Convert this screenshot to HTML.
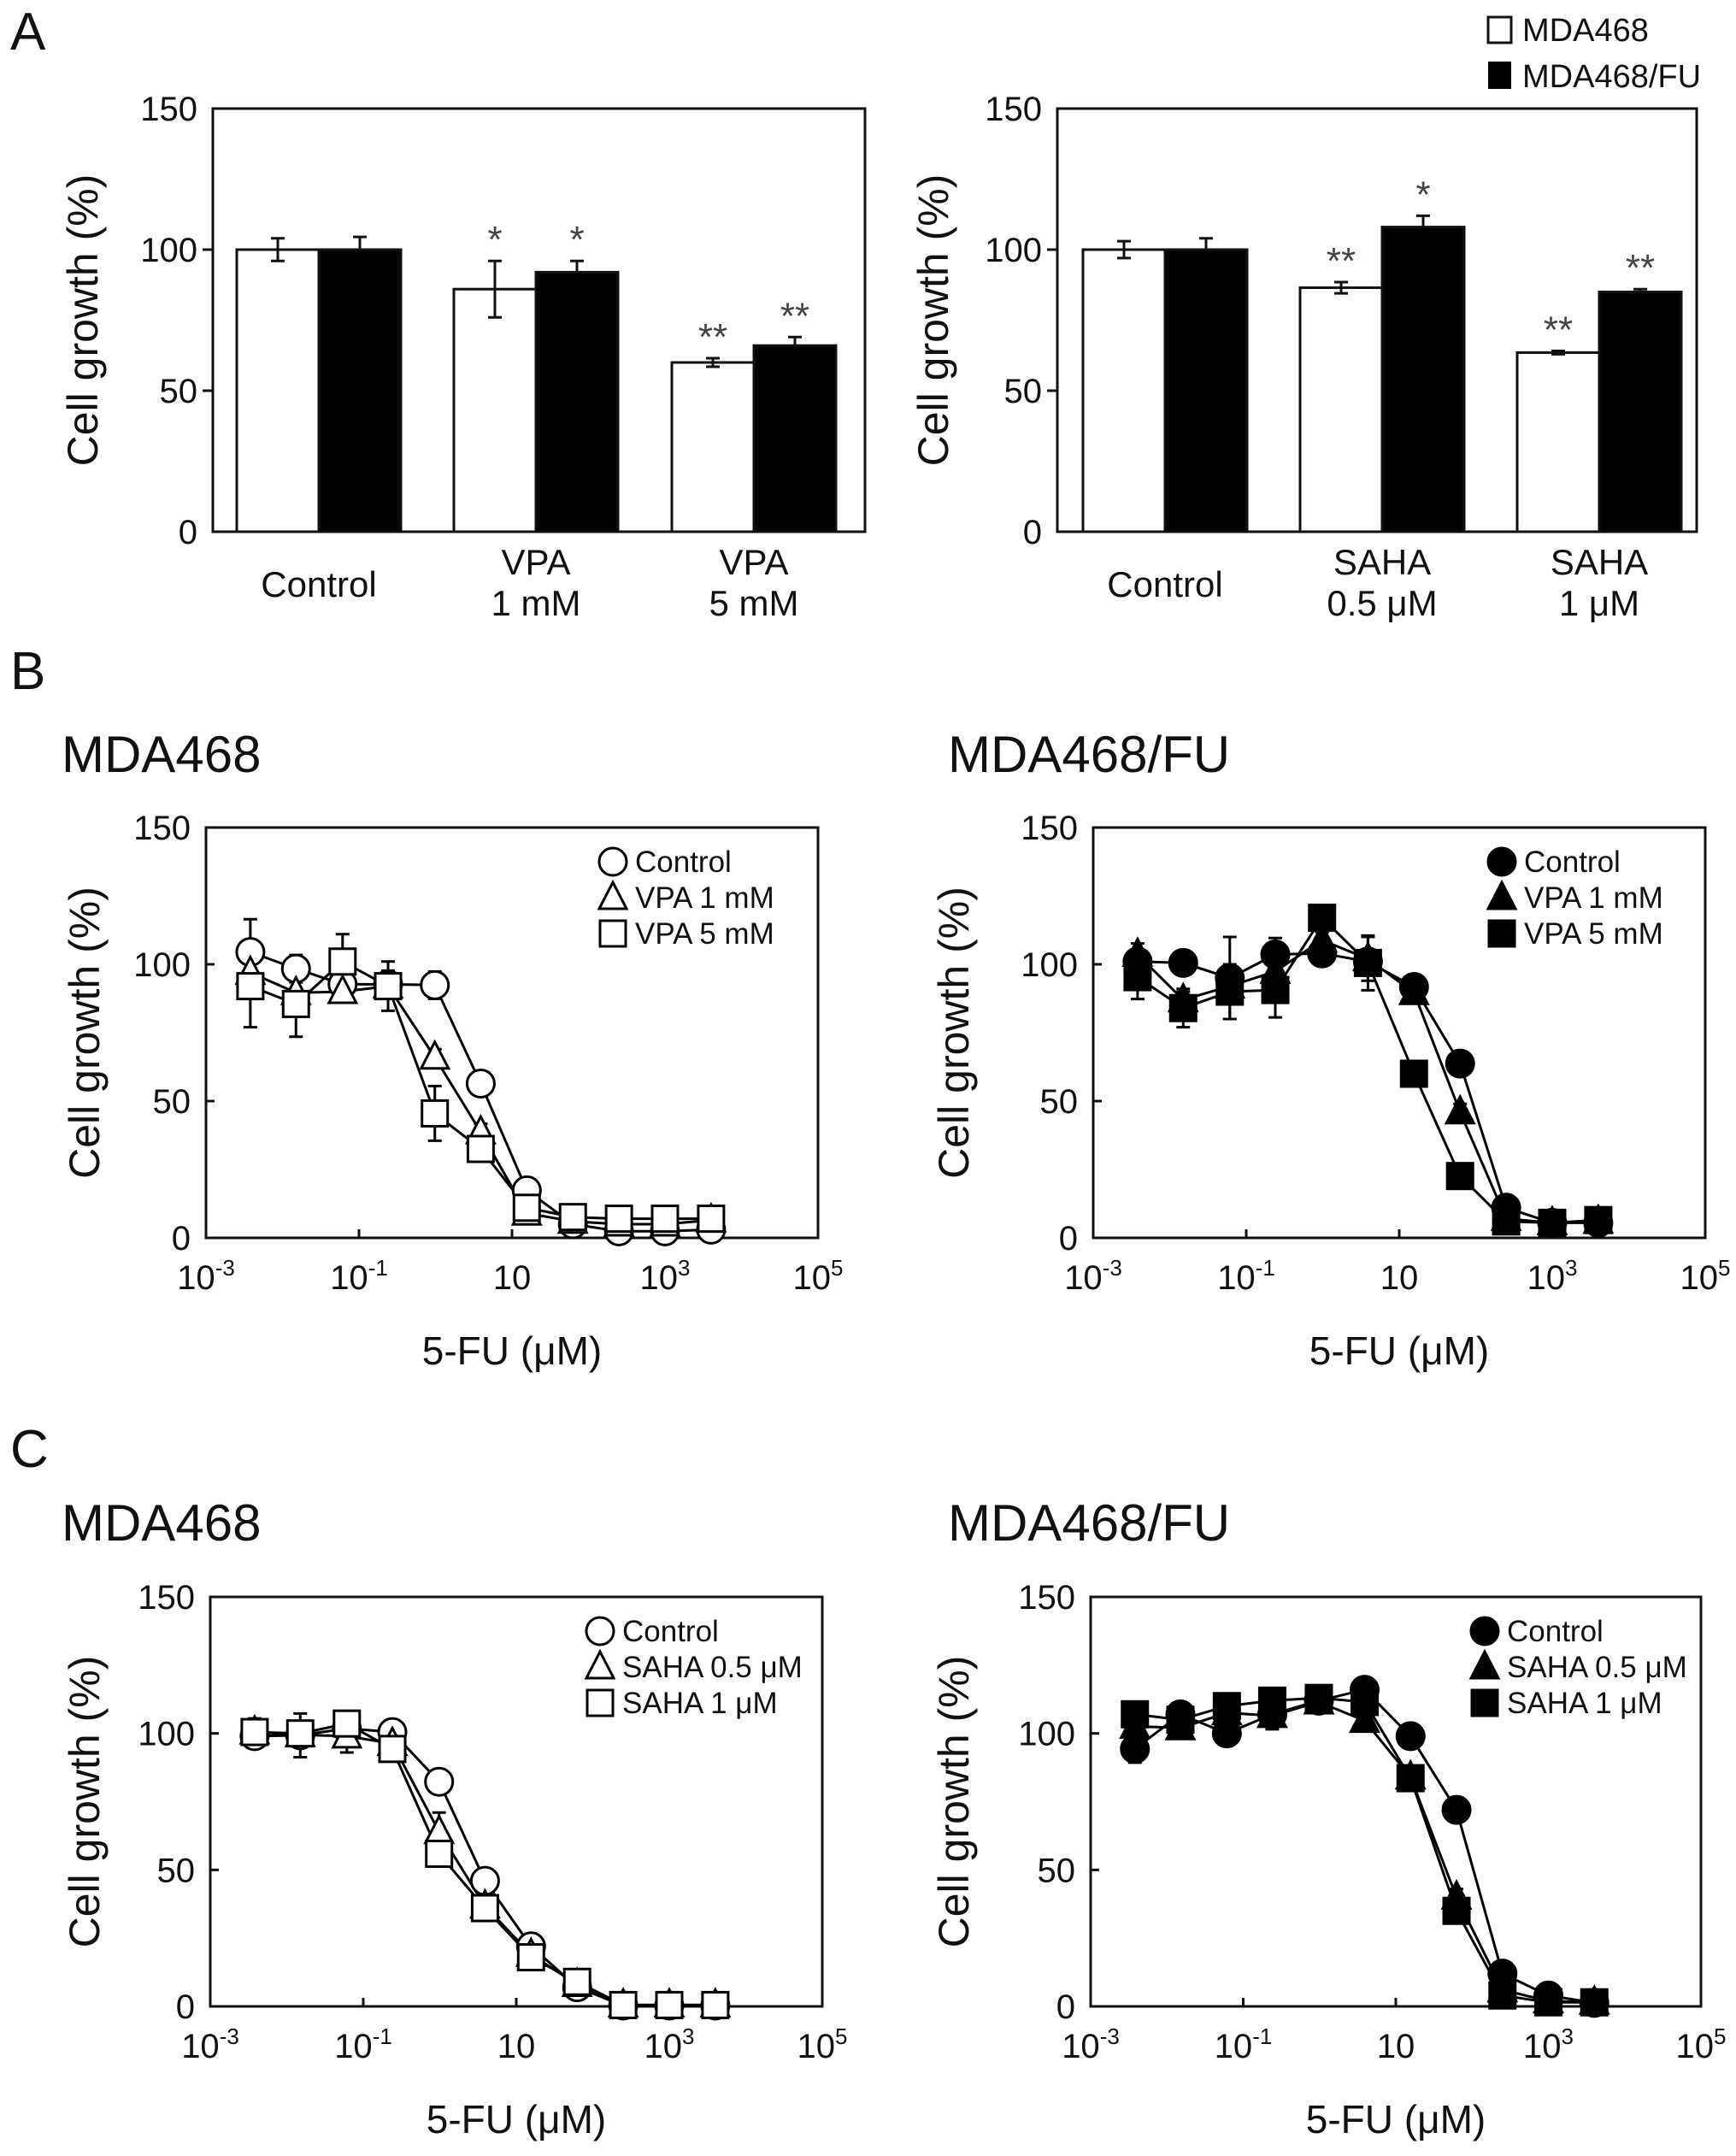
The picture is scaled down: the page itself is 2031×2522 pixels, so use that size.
<!DOCTYPE html>
<html><head><meta charset="utf-8"><style>
html,body{margin:0;padding:0;background:#fff}
svg{display:block}
text{font-family:"Liberation Sans",Arial,sans-serif;fill:#111}
</style></head><body>
<svg id="fig" width="2031" height="2522" viewBox="0 0 2031 2522" xmlns="http://www.w3.org/2000/svg">
<rect width="2031" height="2522" fill="#fff"/>
<text x="12" y="58" font-size="62">A</text>
<text x="12" y="806" font-size="62">B</text>
<text x="12" y="1716" font-size="62">C</text>
<g>
<rect x="1741" y="20" width="27" height="30" fill="#fff" stroke="#111" stroke-width="3"/>
<text x="1781" y="48" font-size="38">MDA468</text>
<rect x="1741" y="72" width="27" height="32" fill="#000"/>
<text x="1781" y="102" font-size="38">MDA468/FU</text>
</g>
<text x="72" y="903" font-size="60">MDA468</text>
<text x="1109" y="903" font-size="60">MDA468/FU</text>
<text x="72" y="1802" font-size="60">MDA468</text>
<text x="1109" y="1802" font-size="60">MDA468/FU</text>
</svg>
<script>
// ===== Panel A data =====
const aLeftCats = [["Control"],["VPA","1 mM"],["VPA","5 mM"]];
const aLeftWhite = [100, 86, 60];
const aLeftWhiteErr = [4, 10, 1.5];
const aLeftBlack = [100, 92, 66];
const aLeftBlackErr = [4.5, 4, 3];
const aLeftWhiteStars = ["", "*", "**"];
const aLeftBlackStars = ["", "*", "**"];
const aRightCats = [["Control"],["SAHA","0.5 \u03bcM"],["SAHA","1 \u03bcM"]];
const aRightWhite = [100, 86.5, 63.5];
const aRightWhiteErr = [3, 2, 0.6];
const aRightBlack = [100, 108, 85];
const aRightBlackErr = [4, 4, 1];
const aRightWhiteStars = ["", "**", "**"];
const aRightBlackStars = ["", "*", "**"];
const yTicks = [0, 50, 100, 150];

// ===== Dose-response data =====
const conc = [0.0038, 0.015, 0.061, 0.24, 0.98, 3.9, 15.6, 62.5, 250, 1000, 4000];
const xTickExp = [-3, -1, 1, 3, 5];
const bL_ctl = [104.5, 98.4, 92.7, 92.7, 92.4, 56.4, 17.4, 5, 2.4, 2.4, 3];
const bL_ctlErr = [12, 5, 5, 5, 5, 2, 2, 1, 1, 1, 1];
const bL_v1 = [97, 89.6, 90, 92, 66, 38.7, 9, 6, 5, 5, 6.5];
const bL_v1Err = [5, 4, 4, 4, 3, 3, 2, 1, 1, 1, 1];
const bL_v5 = [92, 85.5, 101, 92, 45.5, 32.5, 11, 7.6, 7, 7, 7];
const bL_v5Err = [15, 12, 10, 9, 10, 4, 2, 1, 1, 1, 1];
const bR_ctl = [101, 100.5, 95, 103.6, 104, 101, 91.7, 63.7, 11, 5.5, 5.5];
const bR_ctlErr = [3, 3, 15, 6, 3, 2, 2, 2, 2, 1, 1];
const bR_v1 = [103.6, 87, 92, 97.4, 108.8, 102, 89.6, 46, 7, 5.5, 6];
const bR_v1Err = [4, 3, 5, 4, 3, 8, 2, 3, 1, 1, 1];
const bR_v5 = [95.3, 84, 90, 90.6, 117, 100.5, 60, 22.6, 6, 5.5, 6.5];
const bR_v5Err = [8, 7, 10, 10, 3, 10, 3, 3, 1, 1, 1];
const cL_ctl = [99, 99.3, 101.8, 100.5, 82.3, 46, 22, 7, 0.3, 0.3, 0.3];
const cL_ctlErr = [3, 8, 4, 4, 2, 2, 2, 1, 1, 1, 1];
const cL_s05 = [100.5, 99.5, 99, 96.3, 64, 36.7, 19, 8, 0.5, 0.5, 0.5];
const cL_s05Err = [4, 3, 6, 3, 7, 2, 2, 1, 1, 1, 1];
const cL_s1 = [100.5, 100, 103.6, 94.3, 55.9, 36, 18, 9, 0.5, 0.5, 0.5];
const cL_s1Err = [5, 3, 4, 3, 2, 2, 2, 1, 1, 1, 1];
const cR_ctl = [94.3, 107, 100, 107, 112, 116, 99, 72, 12, 4, 1.3];
const cR_ctlErr = [5, 2, 2, 2, 2, 2, 2, 2, 2, 1, 1];
const cR_s05 = [102.6, 102, 107.5, 106.5, 111.5, 104.7, 84, 40, 6, 2, 1.5];
const cR_s05Err = [3, 3, 3, 5, 2, 2, 2, 3, 1, 1, 1];
const cR_s1 = [107, 105, 110, 112, 113, 111.5, 83.6, 35, 4, 1.5, 1.5];
const cR_s1Err = [4, 3, 3, 3, 2, 2, 2, 2, 1, 1, 1];

const NS = "http://www.w3.org/2000/svg";
const svg = document.getElementById("fig");
function mk(tag, attrs, parent) {
  const e = document.createElementNS(NS, tag);
  for (const k in attrs) e.setAttribute(k, attrs[k]);
  (parent || svg).appendChild(e);
  return e;
}
function txt(x, y, s, size, anchor, parent) {
  const t = mk("text", {x: x, y: y, "font-size": size, "text-anchor": anchor || "start"}, parent);
  t.textContent = s;
  return t;
}

function yAxis(g, L, T, B, yscale, tickOut, titleX, name) {
  yTicks.forEach(v => {
    const y = yscale(v);
    if (v > 0 && v < 150) {
      const tk = mk("line", {x1: tickOut ? L - 12 : L, x2: tickOut ? L : L + 10, y1: y, y2: y, stroke: "#111", "stroke-width": 3}, g);
      
      
    }
    const t = txt(L - 18, y + 14, String(v), 40, "end", g);
    
    
  });
  const cy = (T + B) / 2;
  const tt = mk("text", {x: titleX, y: cy, "font-size": 50, "text-anchor": "middle", transform: "rotate(-90 " + titleX + " " + cy + ")"}, g);
  tt.textContent = "Cell growth (%)";
  
  
}

function barChart(name, L, R, T, B, cats, centers, white, whiteErr, black, blackErr, wStars, bStars, titleX) {
  const g = mk("g", {});
  
  
  const ys = v => B - v / 150 * (B - T);
  const frame = mk("rect", {x: L, y: T, width: R - L, height: B - T, fill: "none", stroke: "#111", "stroke-width": 3}, g);
  
  
  yAxis(g, L, T, B, ys, true, titleX, name);
  const bw = 96;
  cats.forEach((c, i) => {
    const cx = centers[i];
    [[white, whiteErr, wStars, "#fff", cx - bw, "white"], [black, blackErr, bStars, "#000", cx, "black"]].forEach(s => {
      const v = s[0][i], e = s[1][i], x0 = s[4];
      const r = mk("rect", {x: x0, y: ys(v), width: bw, height: B - ys(v), fill: s[3], stroke: "#111", "stroke-width": 3}, g);
      
      
      const mx = x0 + bw / 2;
      const eb = mk("path", {d: "M" + mx + " " + ys(v) + "V" + ys(v + e) + "M" + (mx - 8) + " " + ys(v + e) + "H" + (mx + 8) + (s[3] === "#fff" ? "M" + mx + " " + ys(v) + "V" + ys(v - e) + "M" + (mx - 8) + " " + ys(v - e) + "H" + (mx + 8) : ""), stroke: "#111", "stroke-width": 3, fill: "none"}, g);
      
      
      if (s[2][i]) {
        const st = txt(mx, ys(v + e) - 10, s[2][i], 44, "middle", g);
        st.setAttribute("fill", "#444");
        st.style.fill = "#444";
        
        
      }
    });
    c.forEach((line, k) => {
      const y = c.length === 1 ? 698 : 672 + k * 48;
      const t = txt(cx, y, line, 42, "middle", g);
      
      
    });
  });
}

barChart("bar-chart-vpa", 249, 1012, 127, 622, aLeftCats, [373, 627, 882], aLeftWhite, aLeftWhiteErr, aLeftBlack, aLeftBlackErr, aLeftWhiteStars, aLeftBlackStars, 114);
barChart("bar-chart-saha", 1237, 1985, 127, 622, aRightCats, [1363, 1617, 1871], aRightWhite, aRightWhiteErr, aRightBlack, aRightBlackErr, aRightWhiteStars, aRightBlackStars, 1109);

function marker(g, shape, filled, x, y, name) {
  const f = filled ? "#000" : "#fff";
  let m;
  if (shape === "circle") m = mk("circle", {cx: x, cy: y, r: 16, fill: f, stroke: "#000", "stroke-width": 3}, g);
  else if (shape === "tri") m = mk("path", {d: "M" + x + " " + (y - 18) + "L" + (x + 16) + " " + (y + 13) + "L" + (x - 16) + " " + (y + 13) + "Z", fill: f, stroke: "#000", "stroke-width": 3}, g);
  else m = mk("rect", {x: x - 15, y: y - 15, width: 30, height: 30, fill: f, stroke: "#000", "stroke-width": 3}, g);
  
  
  return m;
}

function dosePanel(name, L, R, T, B, series, filled, legendLabels, legX, legY, titleX) {
  const g = mk("g", {});
  
  
  const ys = v => B - v / 150 * (B - T);
  const xs = c => L + (Math.log10(c) + 3) / 8 * (R - L);
  const frame = mk("rect", {x: L, y: T, width: R - L, height: B - T, fill: "none", stroke: "#111", "stroke-width": 3}, g);
  
  
  yAxis(g, L, T, B, ys, false, titleX, name);
  xTickExp.forEach(ex => {
    const x = xs(Math.pow(10, ex));
    if (ex > -3 && ex < 5) {
      const tk = mk("line", {x1: x, x2: x, y1: B, y2: B - 10, stroke: "#111", "stroke-width": 3}, g);
      
      
    }
    const t = mk("text", {x: x, y: B + 60, "font-size": 40, "text-anchor": "middle"}, g);
    
    
    if (ex === 1) { t.textContent = "10"; }
    else {
      t.appendChild(document.createTextNode("10"));
      const sp = document.createElementNS(NS, "tspan");
      sp.setAttribute("dy", "-16");
      sp.setAttribute("font-size", "26");
      sp.textContent = String(ex);
      t.appendChild(sp);
    }
  });
  const xt = txt((L + R) / 2, B + 148, "5-FU (\u03bcM)", 46, "middle", g);
  
  
  const shapes = ["circle", "tri", "square"];
  series.forEach((s, si) => {
    const d = s[0].map((v, i) => (i ? "L" : "M") + xs(conc[i]).toFixed(1) + " " + ys(v).toFixed(1)).join("");
    const ln = mk("path", {d: d, fill: "none", stroke: "#000", "stroke-width": 3}, g);
    
    
  });
  series.forEach((s, si) => {
    s[0].forEach((v, i) => {
      const x = xs(conc[i]), e = s[1][i];
      const eb = mk("path", {d: "M" + x + " " + ys(v + e) + "V" + ys(v - e) + "M" + (x - 8) + " " + ys(v + e) + "H" + (x + 8) + "M" + (x - 8) + " " + ys(v - e) + "H" + (x + 8), stroke: "#000", "stroke-width": 3, fill: "none"}, g);
      
      
    });
  });
  series.forEach((s, si) => {
    s[0].forEach((v, i) => { marker(g, shapes[si], filled, xs(conc[i]), ys(v), 'point-' + shapes[si]); });
  });
  legendLabels.forEach((lab, i) => {
    const y = legY + i * 42;
    marker(g, shapes[i], filled, legX, y, 'legend-marker');
    const t = txt(legX + 26, y + 12, lab, 35, "start", g);
    
    
  });
}

dosePanel("dose-b-mda468", 241, 957, 968, 1448, [[bL_ctl, bL_ctlErr], [bL_v1, bL_v1Err], [bL_v5, bL_v5Err]], false, ["Control", "VPA 1 mM", "VPA 5 mM"], 717, 1008, 116);
dosePanel("dose-b-mda468fu", 1279, 1995, 968, 1448, [[bR_ctl, bR_ctlErr], [bR_v1, bR_v1Err], [bR_v5, bR_v5Err]], true, ["Control", "VPA 1 mM", "VPA 5 mM"], 1757, 1008, 1133);
dosePanel("dose-c-mda468", 246, 962, 1868, 2347, [[cL_ctl, cL_ctlErr], [cL_s05, cL_s05Err], [cL_s1, cL_s1Err]], false, ["Control", "SAHA 0.5 \u03bcM", "SAHA 1 \u03bcM"], 702, 1908, 116);
dosePanel("dose-c-mda468fu", 1276, 1990, 1868, 2347, [[cR_ctl, cR_ctlErr], [cR_s05, cR_s05Err], [cR_s1, cR_s1Err]], true, ["Control", "SAHA 0.5 \u03bcM", "SAHA 1 \u03bcM"], 1737, 1908, 1133);
</script>
</body></html>
